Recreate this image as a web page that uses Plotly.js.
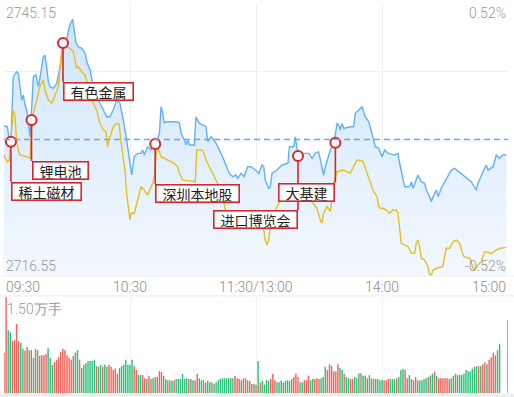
<!DOCTYPE html>
<html><head><meta charset="utf-8">
<script src="https://cdn.plot.ly/plotly-3.0.1.min.js"></script>
<style>html,body{margin:0;padding:0;background:#fff;}#chart{width:514px;height:397px;}</style>
</head><body><div id="chart"></div>
<script>
// ---------- data ----------
const priceMax = 2745.15, priceMin = 2716.55, prevClose = 2730.85;
const priceLabels = ['2745.15', '2716.55'];
const pctLabels = ['0.52%', '-0.52%'];
const timeTicks = [0, 60, 120, 180, 240];
const timeLabels = ['09:30', '10:30', '11:30/13:00', '14:00', '15:00'];
const volMax = 1.5;
const volMaxLabel = '1.50万手';

// index line (minutes after 09:30, trading time)
const blueT = [0,1.6,2.5,3.3,4.4,6.0,6.8,8.4,9.2,10,10.8,12.4,14,15.2,16.3,17.1,18.7,19.5,20.3,21.1,21.9,23.5,25.1,26.7,28.2,29.8,30.6,31.4,32.7,33.3,34.3,35.4,37,38.6,39.7,41,42.5,44.9,47.3,48.9,50.5,52,53.7,55.2,56.8,58.4,60.8,62,63.7,65.2,66,66.8,68.4,70,70.8,72.4,74,74.8,75.6,76.3,77.1,81.9,83.5,84.3,85.9,86.7,87.5,88.3,90.6,91.4,93,96.2,97,98.6,101,104.1,107.3,108.9,110.5,111.3,112.9,114.4,116,117.6,119.7,121.3,122.9,123.7,124.4,126,126.8,127.6,130,132.4,135.2,135.9,138,138.7,139.5,141.1,141.9,145.1,146.7,148.2,149.8,150.6,152.2,153,155.4,157,158.6,159.4,160.1,161,161.8,164.9,166.5,167.3,169.7,170.5,172,173.7,175.2,176.8,178.4,180,181.3,182.9,186,187.6,188.4,190,190.8,193.2,194,194.8,196.3,197.1,198.7,200.3,201.1,202.7,203.5,204.3,205.9,206.7,208.2,211.4,213,214.6,218.6,221,222.5,224.9,225.7,228.9,229.7,230.5,232.9,234.4,236,237.6,239.2];
const blueV = [2732.26,2732.19,2730.80,2730.62,2737.43,2737.95,2737.79,2734.99,2735.51,2734.46,2733.94,2731.14,2737.43,2737.61,2736.38,2737.26,2739.52,2739.70,2738.48,2736.91,2736.38,2736.21,2736.74,2738.48,2740.93,2741.27,2742.14,2742.84,2743.44,2742.32,2740.93,2740.57,2740.40,2739.88,2738.83,2738.13,2736.38,2734.99,2733.94,2733.24,2733.24,2733.94,2734.99,2734.64,2732.89,2730.80,2727.13,2729.05,2729.40,2729.40,2729.75,2729.22,2730.09,2729.75,2730.27,2730.45,2731.50,2734.28,2733.59,2732.54,2732.71,2732.71,2732.61,2731.50,2730.80,2730.27,2730.80,2730.27,2730.27,2733.24,2732.54,2732.19,2730.62,2731.14,2730.45,2729.05,2727.30,2726.95,2727.13,2726.78,2727.30,2726.95,2728.00,2728.00,2727.65,2727.30,2728.18,2728.00,2726.61,2725.74,2725.91,2727.30,2727.65,2728.18,2728.36,2730.09,2730.09,2731.14,2729.93,2729.22,2729.40,2729.40,2728.88,2729.40,2729.57,2728.70,2727.13,2728.00,2729.75,2730.27,2732.54,2732.37,2731.84,2732.54,2732.02,2732.19,2732.19,2733.59,2734.12,2734.28,2733.24,2732.71,2731.50,2730.09,2729.93,2729.05,2729.75,2729.40,2729.22,2729.40,2728.36,2726.78,2725.91,2725.91,2726.43,2725.74,2726.78,2727.13,2726.43,2726.26,2725.56,2724.86,2724.33,2724.86,2725.56,2724.86,2725.74,2726.95,2727.65,2727.83,2727.13,2726.61,2726.43,2725.56,2726.26,2727.83,2728.18,2727.65,2728.00,2729.22,2728.88,2729.22,2729.22];

// second (yellow) line
const yellowT = [0,1.6,2.5,3.7,4.4,5.2,6,6.8,7.6,10.8,12.4,13.2,14,15.6,17.1,18.7,19.5,21.1,22.7,23.5,25.1,25.9,26.7,27.5,28.2,29.8,31.4,33,33.8,34.6,35.4,37,38.6,40.1,41,42.5,44.1,45.7,47.3,48.6,49.2,50.5,52,53.7,54.9,55.6,56.8,57.6,58.4,60,60.5,62,63.7,65.2,66.8,68.4,70.8,71.6,72.4,73.2,74.8,78,81.1,82.7,83.5,85.1,91.1,91.8,94.6,96.2,99.4,102.5,104.1,105.7,110,116,120,123.7,124.4,125.2,126,126.8,128.4,130,131.6,134.8,135.9,138,142,145.1,145.9,147.5,149,150.6,151.4,152.2,153.8,155.4,156.2,157,158.6,161.8,163.3,164.9,167.3,168.1,170.5,171.3,172.9,174.4,176,177.6,178.4,179.2,180.5,182,183.7,185.2,186.8,187.6,188.4,189.2,192.4,194,195.6,196.3,197.1,197.9,198.7,200.3,201.9,202.7,203.5,204.3,205.9,209,209.8,210.6,212.2,213.8,215.4,217,217.8,219,221.8,222.5,223.3,224.1,225.7,227.3,228.9,232,234.4,236,239.2];
const yellowV = [2729.22,2728.52,2728.70,2731.50,2733.94,2733.41,2730.80,2729.75,2729.22,2729.05,2728.88,2732.19,2733.59,2734.99,2736.38,2737.08,2736.04,2734.99,2734.64,2734.99,2736.04,2736.38,2738.48,2740.23,2740.75,2740.57,2740.40,2740.05,2739.18,2738.31,2738.48,2737.95,2737.61,2736.38,2735.33,2734.64,2733.94,2732.54,2731.84,2731.67,2730.09,2731.14,2732.19,2732.54,2732.47,2730.80,2729.05,2727.65,2725.21,2722.42,2723.12,2723.12,2724.51,2725.91,2725.56,2725.03,2726.26,2726.95,2729.05,2730.09,2729.05,2728.70,2728.36,2728.00,2727.30,2726.61,2726.43,2729.75,2729.75,2728.70,2727.30,2725.91,2724.86,2723.12,2722.42,2722.21,2721.89,2721.37,2720.32,2719.80,2720.32,2721.71,2722.76,2723.81,2724.51,2725.21,2725.74,2726.08,2725.35,2724.86,2724.51,2723.99,2723.64,2722.42,2722.07,2723.12,2723.81,2723.29,2724.51,2726.26,2727.48,2727.65,2727.48,2727.30,2728.36,2728.70,2728.63,2728.36,2727.30,2726.26,2725.38,2724.86,2723.81,2723.64,2723.64,2723.46,2723.12,2723.46,2723.46,2723.12,2721.37,2719.98,2719.62,2718.93,2718.93,2719.98,2720.32,2719.62,2718.40,2718.22,2717.52,2716.65,2716.65,2717.18,2717.36,2717.52,2718.57,2719.45,2719.45,2720.14,2720.32,2719.98,2719.27,2718.57,2718.40,2718.05,2717.36,2717.18,2717.70,2718.05,2719.09,2718.93,2719.27,2719.45,2719.55];

// volume per minute (万手), index = minute 0..240
const volume = [
0.63,1.50,0.98,0.95,0.81,0.83,1.08,0.81,0.78,0.69,
0.66,0.72,0.67,0.67,0.55,0.69,0.67,0.58,0.59,0.59,
0.61,0.70,0.55,0.44,0.48,0.52,0.56,0.64,0.69,0.67,
0.59,0.55,0.52,0.58,0.63,0.67,0.52,0.39,0.44,0.47,
0.50,0.50,0.50,0.52,0.42,0.41,0.44,0.41,0.44,0.41,
0.44,0.41,0.36,0.38,0.30,0.39,0.42,0.44,0.52,0.44,
0.44,0.52,0.42,0.36,0.28,0.28,0.28,0.23,0.22,0.27,
0.22,0.23,0.25,0.25,0.34,0.33,0.27,0.22,0.20,0.20,
0.19,0.20,0.22,0.22,0.22,0.30,0.22,0.23,0.22,0.22,
0.20,0.20,0.30,0.23,0.20,0.20,0.16,0.19,0.17,0.17,
0.14,0.17,0.20,0.22,0.23,0.23,0.23,0.23,0.23,0.23,
0.27,0.23,0.22,0.20,0.23,0.23,0.20,0.19,0.14,0.14,0.13,
0.50,0.16,0.19,0.13,0.20,0.19,0.22,0.30,0.20,0.17,
0.17,0.19,0.16,0.19,0.20,0.19,0.22,0.25,0.30,0.25,
0.17,0.17,0.20,0.20,0.27,0.20,0.22,0.22,0.23,0.22,
0.23,0.25,0.41,0.36,0.45,0.42,0.34,0.34,0.45,0.39,
0.36,0.30,0.25,0.23,0.22,0.22,0.25,0.23,0.31,0.31,
0.27,0.27,0.23,0.28,0.23,0.22,0.22,0.22,0.20,0.20,
0.20,0.20,0.22,0.22,0.22,0.22,0.23,0.25,0.36,0.38,
0.36,0.23,0.28,0.22,0.20,0.25,0.20,0.20,0.20,0.22,
0.23,0.25,0.27,0.30,0.33,0.27,0.23,0.23,0.23,0.23,
0.23,0.22,0.23,0.27,0.30,0.28,0.28,0.28,0.30,0.36,
0.34,0.34,0.38,0.41,0.42,0.42,0.42,0.45,0.48,0.45,
0.52,0.56,0.63,0.59,0.67,0.77,0,0,0,1.14];
// 1 = up (red), -1 = down (green)
const volDir = [
1,1,-1,-1,1,1,1,1,-1,-1,
1,1,-1,1,-1,1,-1,1,1,1,
1,-1,-1,-1,1,1,1,1,1,1,
1,1,1,1,-1,-1,1,-1,-1,-1,
-1,-1,-1,-1,1,-1,-1,1,-1,-1,
1,1,1,1,1,-1,-1,-1,-1,-1,
-1,-1,1,1,-1,-1,1,1,-1,1,
1,-1,-1,1,1,1,-1,-1,1,-1,
-1,1,-1,-1,-1,-1,-1,-1,1,-1,
-1,1,1,-1,-1,1,-1,-1,-1,1,
-1,-1,-1,-1,-1,-1,-1,-1,-1,-1,
1,1,1,-1,1,1,-1,1,1,-1,1,
-1,1,-1,-1,-1,-1,1,1,1,-1,
-1,-1,1,-1,-1,-1,1,1,1,1,
-1,-1,1,1,1,-1,-1,1,1,1,
-1,-1,-1,1,1,1,1,1,1,-1,
-1,1,-1,-1,1,1,-1,-1,-1,1,
-1,-1,1,-1,-1,1,-1,-1,-1,-1,
1,1,1,-1,-1,-1,1,-1,-1,-1,
1,1,-1,-1,1,1,-1,-1,-1,-1,
-1,1,-1,-1,1,-1,1,1,1,1,
1,1,-1,-1,1,-1,-1,-1,-1,-1,
-1,-1,-1,-1,-1,1,-1,1,1,-1,
1,1,1,1,-1,-1,1,1,1,1];

// event tags
const eventNames = ['稀土磁材', '锂电池', '有色金属', '深圳本地股', '进口博览会', '大基建'];
const eventT = [3.3, 13.1, 28.1, 72.0, 140.0, 157.8];
const eventV = [2730.62, 2732.89, 2740.96, 2730.38, 2729.12, 2730.52];

// ---------- style / placement ----------
const tagDrop = [40, 41, 39, 40, 54, 40];
const tagSide = ['left', 'left', 'left', 'left', 'right', 'right'];
const RED = '#d8262c';
const UP = '#f0625b', DOWN = '#2dbf7b';
const GRAY = '#999999';
const NUMFONT = 'Roboto, "Liberation Sans", sans-serif';
const CJK = '"Noto Sans CJK SC", "Noto Sans", sans-serif';

const minutes = volume.map((_, i) => i);

const traces = [
  {x: blueT, y: blueV, type: 'scatter', mode: 'lines', xaxis: 'x', yaxis: 'y',
   line: {color: '#62b1f2', width: 1.4}, fill: 'tozeroy',
   fillgradient: {type: 'vertical', start: priceMin, stop: priceMax,
     colorscale: [[0, 'rgb(243,248,254)'], [1, 'rgb(204,228,250)']]},
   hoverinfo: 'skip'},
  {x: yellowT, y: yellowV, type: 'scatter', mode: 'lines', xaxis: 'x', yaxis: 'y',
   line: {color: '#e6bf22', width: 1.4}, hoverinfo: 'skip'},
  {x: eventT, y: eventV, type: 'scatter', mode: 'markers', xaxis: 'x', yaxis: 'y',
   marker: {size: 10, color: '#ffffff', line: {color: RED, width: 2}}, hoverinfo: 'skip'},
  {x: minutes, y: volume, type: 'bar', xaxis: 'x2', yaxis: 'y2', width: 0.68,
   marker: {color: volDir.map(d => d > 0 ? UP : DOWN), line: {width: 0}}, hoverinfo: 'skip'}
];

const annotations = [];
// price / percent labels
annotations.push({xref: 'paper', yref: 'y', x: 0, y: priceMax, xanchor: 'left', yanchor: 'top', showarrow: false,
  text: priceLabels[0], font: {family: NUMFONT, size: 14, color: GRAY, weight: 300}});
annotations.push({xref: 'paper', yref: 'y', x: 0, y: priceMin, xanchor: 'left', yanchor: 'bottom', showarrow: false,
  text: priceLabels[1], font: {family: NUMFONT, size: 14, color: GRAY, weight: 300}});
annotations.push({xref: 'paper', yref: 'y', x: 1, y: priceMax, xanchor: 'right', yanchor: 'top', showarrow: false,
  text: pctLabels[0], font: {family: NUMFONT, size: 14, color: GRAY, weight: 300}});
annotations.push({xref: 'paper', yref: 'y', x: 1, y: priceMin, xanchor: 'right', yanchor: 'bottom', showarrow: false,
  text: pctLabels[1], font: {family: NUMFONT, size: 14, color: GRAY, weight: 300}});
// time labels
timeTicks.forEach((t, i) => {
  annotations.push({xref: 'x', yref: 'paper', x: t, y: 0.272,
    xanchor: i === 0 ? 'left' : (i === timeTicks.length - 1 ? 'right' : 'center'), yanchor: 'middle',
    showarrow: false, text: timeLabels[i], font: {family: NUMFONT, size: 14, color: '#8c8c8c', weight: 300}});
});
// volume max label
annotations.push({xref: 'paper', yref: 'paper', x: 0, y: 0.246, xanchor: 'left', yanchor: 'top', xshift: 1, yshift: -2,
  showarrow: false, text: volMaxLabel, font: {family: NUMFONT, size: 14, color: GRAY, weight: 300}});
// event tags
eventNames.forEach((name, i) => {
  annotations.push({xref: 'x', yref: 'y', x: eventT[i], y: eventV[i], text: name,
    showarrow: true, arrowhead: 0, arrowwidth: 1.6, arrowcolor: RED, standoff: 5,
    ax: 0, ay: tagDrop[i], xanchor: tagSide[i], yanchor: 'top',
    bgcolor: '#ffffff', bordercolor: RED, borderwidth: 1.6, borderpad: 0,
    width: name.length * 14 + 12, height: 16,
    font: {family: CJK, size: 14, color: '#222222'}});
});

const q = (priceMax - priceMin) / 4;
const layout = {
  width: 514, height: 397,
  margin: {l: 4, r: 6, t: 3, b: 4, pad: 0},
  paper_bgcolor: '#ffffff', plot_bgcolor: 'rgba(0,0,0,0)',
  showlegend: false,
  xaxis: {domain: [0, 1], range: [0, 240], anchor: 'y', tickvals: timeTicks, showticklabels: false,
    showgrid: true, gridcolor: '#efefef', gridwidth: 1, zeroline: false, ticks: '', fixedrange: true},
  yaxis: {domain: [0.3, 1], range: [priceMin, priceMax], anchor: 'x',
    tickvals: [priceMin, priceMin + q, priceMin + 3 * q, priceMax], showticklabels: false,
    showgrid: true, gridcolor: '#efefef', gridwidth: 1, zeroline: false, ticks: '', fixedrange: true},
  xaxis2: {domain: [0, 1], range: [0, 240], anchor: 'y2', tickvals: timeTicks.slice(1, 4), showticklabels: false,
    showgrid: true, gridcolor: '#f2f2f2', zeroline: false, ticks: '', fixedrange: true},
  yaxis2: {domain: [0, 0.246], range: [0, volMax], anchor: 'x2', showticklabels: false,
    showgrid: false, zeroline: false, ticks: '', fixedrange: true},
  shapes: [
    {type: 'line', xref: 'x', yref: 'y', x0: 0, x1: 240, y0: prevClose, y1: prevClose,
     line: {color: '#6aa8e8', width: 1.5, dash: '6px,4px'}, layer: 'above'},
    {type: 'line', xref: 'paper', yref: 'paper', x0: -0.01, x1: 1.02, y0: 0.3, y1: 0.3,
     line: {color: '#ececec', width: 1}},
    {type: 'line', xref: 'paper', yref: 'paper', x0: -0.01, x1: 1.02, y0: 0.249, y1: 0.249,
     line: {color: '#ececec', width: 1}},
    {type: 'rect', xref: 'paper', yref: 'paper', x0: -0.01, x1: 1.02, y0: -0.012, y1: -0.001,
     fillcolor: '#efefef', line: {width: 0}, layer: 'below'}
  ],
  annotations: annotations
};

Plotly.newPlot('chart', traces, layout, {displayModeBar: false, staticPlot: true});
</script>
</body></html>
